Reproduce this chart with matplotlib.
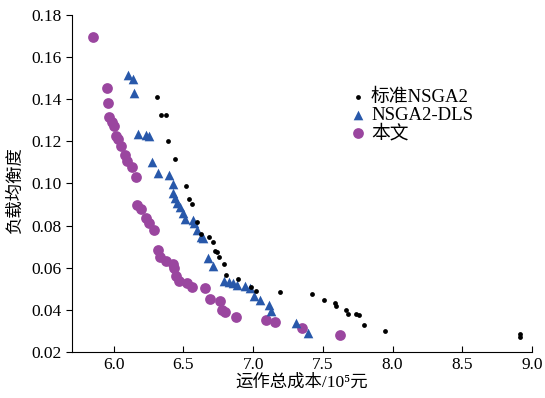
import matplotlib
matplotlib.use("Agg")
import matplotlib.pyplot as plt

plt.rcParams["font.family"] = ["Liberation Serif", "Noto Sans CJK SC", "DejaVu Sans"]

# 标准NSGA2
std_x = [6.311, 6.340, 6.378, 6.387, 6.442, 6.521, 6.543, 6.559, 6.598, 6.627,
         6.681, 6.713, 6.725, 6.741, 6.758, 6.791, 6.803, 6.892, 6.985, 7.023,
         7.195, 7.424, 7.510, 7.586, 7.595, 7.667, 7.681, 7.740, 7.762, 7.797,
         7.943, 8.911, 8.911]
std_y = [0.1413, 0.1325, 0.1325, 0.1202, 0.1117, 0.0990, 0.0924, 0.0902, 0.0817, 0.0758,
         0.0747, 0.0721, 0.0681, 0.0674, 0.0649, 0.0617, 0.0566, 0.0544, 0.0509, 0.0490,
         0.0485, 0.0473, 0.0444, 0.0430, 0.0417, 0.0401, 0.0382, 0.0379, 0.0374, 0.0326,
         0.0301, 0.0283, 0.0269]

# NSGA2-DLS
dls_x = [6.100, 6.139, 6.143, 6.175, 6.232, 6.251, 6.272, 6.318, 6.399, 6.423,
         6.426, 6.442, 6.454, 6.473, 6.497, 6.514, 6.569, 6.579, 6.598, 6.627,
         6.638, 6.674, 6.713, 6.789, 6.824, 6.853, 6.885, 6.944, 6.980, 7.004,
         7.052, 7.116, 7.131, 7.310, 7.394]
dls_y = [0.1517, 0.1498, 0.1431, 0.1236, 0.1231, 0.1225, 0.1104, 0.1049, 0.1038, 0.0998,
         0.0953, 0.0930, 0.0906, 0.0887, 0.0858, 0.0831, 0.0826, 0.0810, 0.0779, 0.0747,
         0.0739, 0.0645, 0.0609, 0.0536, 0.0530, 0.0525, 0.0517, 0.0512, 0.0501, 0.0464,
         0.0445, 0.0424, 0.0393, 0.0338, 0.0290]

# 本文
our_x = [5.852, 5.948, 5.960, 5.969, 5.989, 6.005, 6.019, 6.032, 6.053, 6.084,
         6.096, 6.134, 6.163, 6.168, 6.199, 6.232, 6.256, 6.292, 6.320, 6.335,
         6.376, 6.426, 6.435, 6.447, 6.471, 6.528, 6.564, 6.654, 6.693, 6.760,
         6.777, 6.801, 6.880, 7.091, 7.159, 7.351, 7.625]
our_y = [0.1696, 0.1456, 0.1382, 0.1317, 0.1294, 0.1274, 0.1226, 0.1212, 0.1179, 0.1136,
         0.1107, 0.1080, 0.1032, 0.0898, 0.0879, 0.0837, 0.0813, 0.0779, 0.0683, 0.0651,
         0.0631, 0.0617, 0.0599, 0.0561, 0.0536, 0.0526, 0.0509, 0.0502, 0.0452, 0.0442,
         0.0401, 0.0390, 0.0367, 0.0353, 0.0342, 0.0314, 0.0279]

fig = plt.figure(figsize=(5.45, 3.98), dpi=100)
ax = fig.add_axes([0.132, 0.116, 0.844, 0.846])

ax.scatter(std_x, std_y, s=12, color="black", marker="o", linewidths=0, label="标准NSGA2", zorder=3)
ax.scatter(dls_x, dls_y, s=48, color="#2858aa", marker="^", linewidths=0, label="NSGA2-DLS", zorder=2)
ax.scatter(our_x, our_y, s=60, color="#9a469f", marker="o", linewidths=0, label="本文", zorder=1)

ax.set_xlim(5.7, 9.0)
ax.set_ylim(0.02, 0.18)
ax.set_xticks([6.0, 6.5, 7.0, 7.5, 8.0, 8.5, 9.0])
ax.set_yticks([0.02, 0.04, 0.06, 0.08, 0.10, 0.12, 0.14, 0.16, 0.18])
ax.set_xticklabels(["6.0", "6.5", "7.0", "7.5", "8.0", "8.5", "9.0"])
ax.set_yticklabels(["0.02", "0.04", "0.06", "0.08", "0.10", "0.12", "0.14", "0.16", "0.18"])

ax.spines["top"].set_visible(False)
ax.spines["right"].set_visible(False)
ax.tick_params(axis="y", direction="out", length=4, labelsize=12.5)
ax.tick_params(axis="x", direction="in", length=4, labelsize=12.5)

ax.set_xlabel("运作总成本/10⁵元", fontsize=12.5, labelpad=1)
ax.set_ylabel("负载均衡度", fontsize=12.5)
ax.yaxis.set_label_coords(-0.105, 0.48)

ax.legend(loc="upper left", bbox_to_anchor=(0.585, 0.805), frameon=False, fontsize=13.5,
          handletextpad=0.2, labelspacing=0.05, borderaxespad=0, handlelength=1.0)

plt.savefig("out.png", dpi=100)
